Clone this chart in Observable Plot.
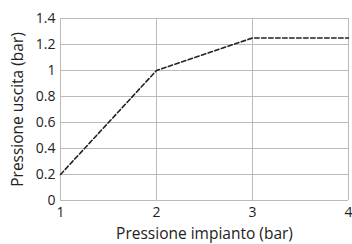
<!DOCTYPE html>
<html><head><meta charset="utf-8">
<script src="https://cdn.jsdelivr.net/npm/d3@7"></script>
<script src="https://cdn.jsdelivr.net/npm/@observablehq/plot@0.6"></script>
<style>
body{margin:0;background:#fff;}
#chart svg{font-family:"Open Sans",sans-serif;}
</style>
</head><body><div id="chart"></div>
<script>
const pressioneImpianto = [1, 2, 3, 4];
const pressioneUscita = [0.2, 1.0, 1.25, 1.25];
const xTicks = [1, 2, 3, 4];
const yTicks = [0, 0.2, 0.4, 0.6, 0.8, 1, 1.2, 1.4];

const data = pressioneImpianto.map((x, i) => ({x, y: pressioneUscita[i]}));

const chart = Plot.plot({
  width: 352, height: 244,
  marginLeft: 60, marginRight: 4, marginTop: 18, marginBottom: 44,
  style: {fontFamily: "Open Sans, sans-serif", fontSize: "14px", color: "#222", background: "#fff"},
  x: {domain: [1, 4], ticks: xTicks, tickFormat: d => String(d), label: null},
  y: {domain: [0, 1.4], ticks: yTicks, tickFormat: d => String(d), label: null},
  marks: [
    Plot.gridX(xTicks, {stroke: "#bbb", strokeOpacity: 1, strokeWidth: 1}),
    Plot.gridY(yTicks, {stroke: "#bbb", strokeOpacity: 1, strokeWidth: 1}),
    Plot.axisX(xTicks, {tickSize: 0, tickPadding: 7, fontSize: 14, tickFormat: d => String(d)}),
    Plot.axisX({tickSize: 0, ticks: [], label: "Pressione impianto (bar)", labelAnchor: "center", labelArrow: "none", labelOffset: 38, fontSize: 15.5}),
    Plot.axisY(yTicks, {tickSize: 0, tickPadding: 5, fontSize: 14, tickFormat: d => String(d)}),
    Plot.axisY({tickSize: 0, ticks: [], label: "Pressione uscita (bar)", labelAnchor: "center", labelArrow: "none", labelOffset: 49, fontSize: 15.5}),
    Plot.line(data, {x: "x", y: "y", stroke: "#222", strokeWidth: 1.6, strokeDasharray: "4.5,2.5"})
  ]
});
document.getElementById("chart").appendChild(chart);
</script>
</body></html>
